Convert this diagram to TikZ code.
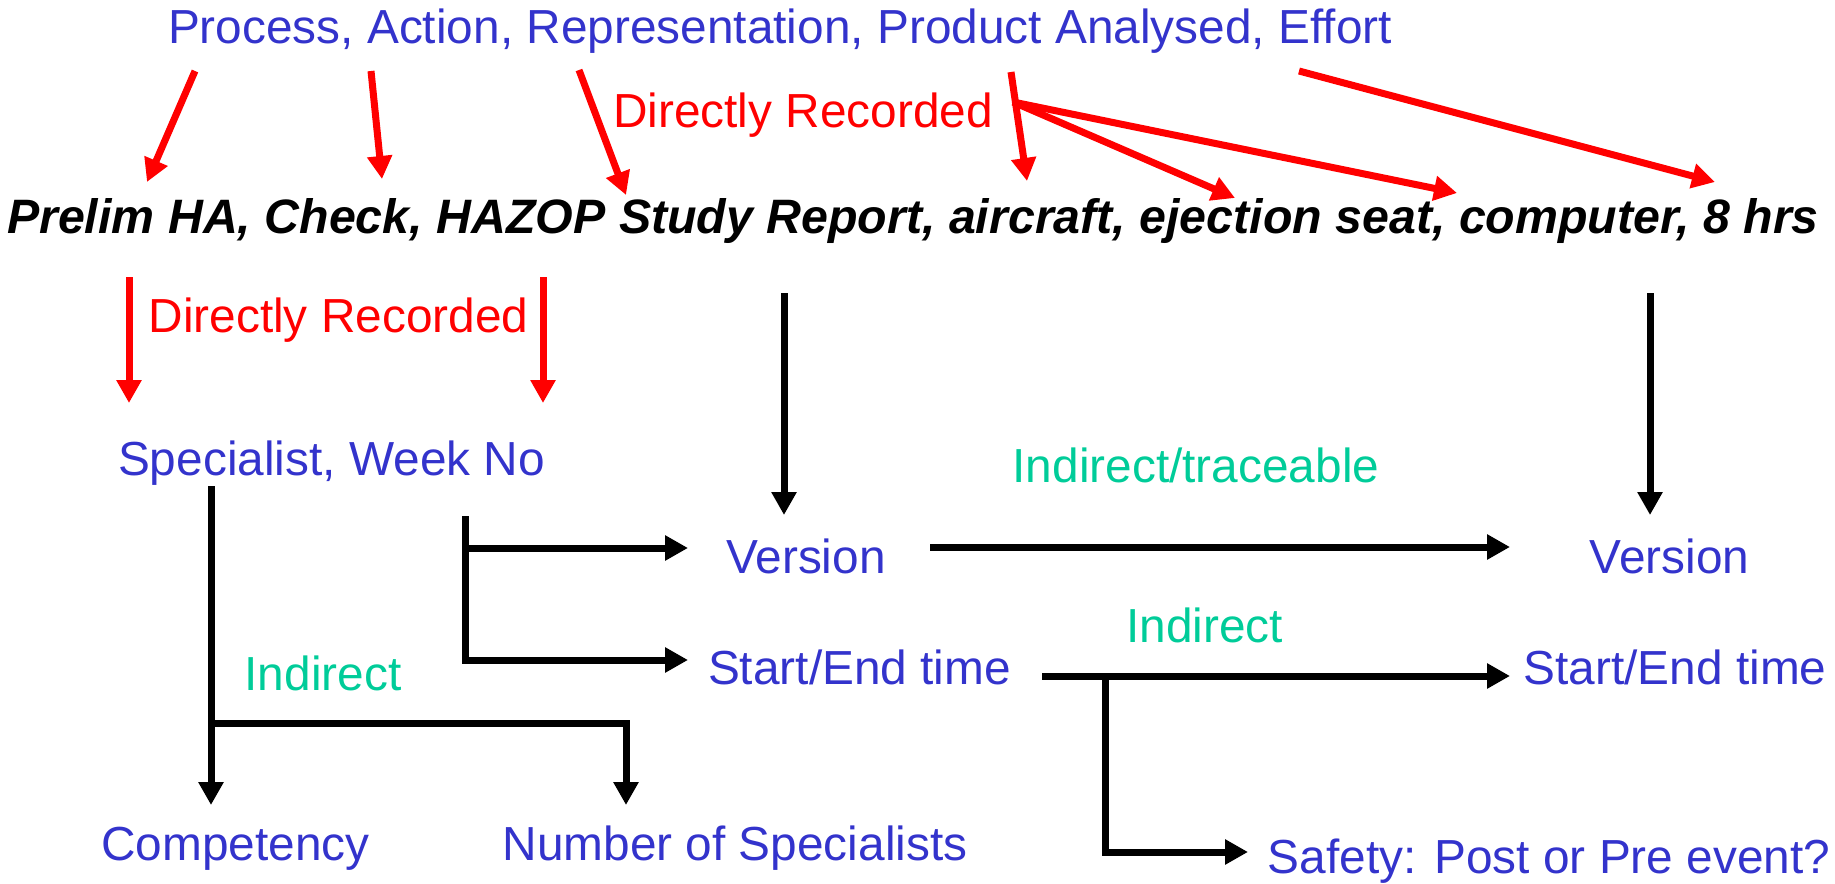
\documentclass[tikz,border=0pt]{standalone}
\usepackage{fontspec}
\setmainfont{Liberation Sans}
\usetikzlibrary{arrows.meta}
\definecolor{tblue}{HTML}{3333CC}
\definecolor{tgreen}{HTML}{00CC99}
\definecolor{tred}{HTML}{FF0000}
\tikzset{
  lbl/.style={anchor=base, inner sep=0pt, font=\fontsize{47.8}{57}\selectfont},
  bluetxt/.style={lbl, text=tblue},
  greentxt/.style={lbl, text=tgreen},
  redtxt/.style={lbl, text=tred},
  blacktxt/.style={lbl, text=black, font=\fontsize{48.3}{57}\selectfont\bfseries\itshape},
  redarrow/.style={draw=tred, line width=7pt, -{Triangle[length=23pt,width=24pt]}},
  blackarrow/.style={draw=black, line width=7pt, line join=miter, -{Triangle[length=23pt,width=24pt]}},
}
\begin{document}
\begin{tikzpicture}[x=1pt,y=-1pt]
\useasboundingbox (0,0) rectangle (1835,883);

% texts
\node[bluetxt] (top) at (780,44) {Process, Action, Representation, Product Analysed, Effort};
\node[redtxt] (dr1) at (803,127) {Directly Recorded};
\node[blacktxt] (mid) at (913,233) {Prelim HA, Check, HAZOP Study Report, aircraft, ejection seat, computer, 8 hrs};
\node[redtxt] (dr2) at (338.5,332) {Directly Recorded};
\node[bluetxt] (spec) at (331.5,475) {Specialist, Week No};
\node[bluetxt] (ver1) at (806,573) {Version};
\node[bluetxt] (ver2) at (1669.5,573) {Version};
\node[greentxt] (trace) at (1196,482) {Indirect/traceable};
\node[bluetxt] (se1) at (859.5,684) {Start/End time};
\node[bluetxt] (se2) at (1675,684) {Start/End time};
\node[greentxt] (ind2) at (1204.5,642) {Indirect};
\node[bluetxt] (safe) at (1549,873) {Safety: Post or Pre event?};
\node[bluetxt] (comp) at (235.5,860) {Competency};
\node[bluetxt] (nspec) at (735,860) {Number of Specialists};
\node[greentxt] (ind1) at (323,690) {Indirect};

% red arrow end points
\coordinate (r1a) at (195,71);   \coordinate (r1b) at (147,182);
\coordinate (r2a) at (371,71);   \coordinate (r2b) at (382,179);
\coordinate (r3a) at (579,70);   \coordinate (r3b) at (626,195);
\coordinate (r4a) at (1011,72);  \coordinate (r4b) at (1027,181);
\coordinate (rj)  at (1013,102);
\coordinate (r5b) at (1235,198);
\coordinate (r6b) at (1457,193);
\coordinate (r7a) at (1299,71);  \coordinate (r7b) at (1715,182);
\coordinate (l1a) at (129,277);  \coordinate (l1b) at (129,403);
\coordinate (l2a) at (543,277);  \coordinate (l2b) at (543,403);

\draw[redarrow] (r1a) -- (r1b);
\draw[redarrow] (r2a) -- (r2b);
\draw[redarrow] (r3a) -- (r3b);
\draw[redarrow] (r4a) -- (r4b);
\draw[redarrow] (rj) -- (r5b);
\draw[redarrow] (rj) -- (r6b);
\draw[redarrow] (r7a) -- (r7b);
\draw[redarrow] (l1a) -- (l1b);
\draw[redarrow] (l2a) -- (l2b);

% black connectors
\coordinate (b1a) at (784,293);  \coordinate (b1b) at (784,515);
\coordinate (b2a) at (1650,293); \coordinate (b2b) at (1650,515);
\draw[blackarrow] (b1a) -- (b1b);
\draw[blackarrow] (b2a) -- (b2b);

\coordinate (brtop) at (465,516);
\coordinate (brmid) at (465,548);
\coordinate (brv)   at (688,548);
\coordinate (brs)   at (688,660);
\draw[blackarrow] (brtop) |- (brs);
\draw[blackarrow] (brmid) -- (brv);

\coordinate (v1out) at (930,547);  \coordinate (v2in) at (1510,547);
\draw[blackarrow] (v1out) -- (v2in);

\coordinate (s1out) at (1042,676); \coordinate (s2in) at (1510,676);
\draw[blackarrow] (s1out) -- (s2in);
\coordinate (sbr) at (1105,676);   \coordinate (safein) at (1248,852);
\draw[blackarrow] (sbr) |- (safein);

\coordinate (lt) at (211,486);  \coordinate (lcomp) at (211,805);
\coordinate (lm) at (211,723);  \coordinate (lnum) at (626,805);
\draw[blackarrow] (lt) -- (lcomp);
\draw[blackarrow] (lm) -| (lnum);
\end{tikzpicture}
\end{document}
